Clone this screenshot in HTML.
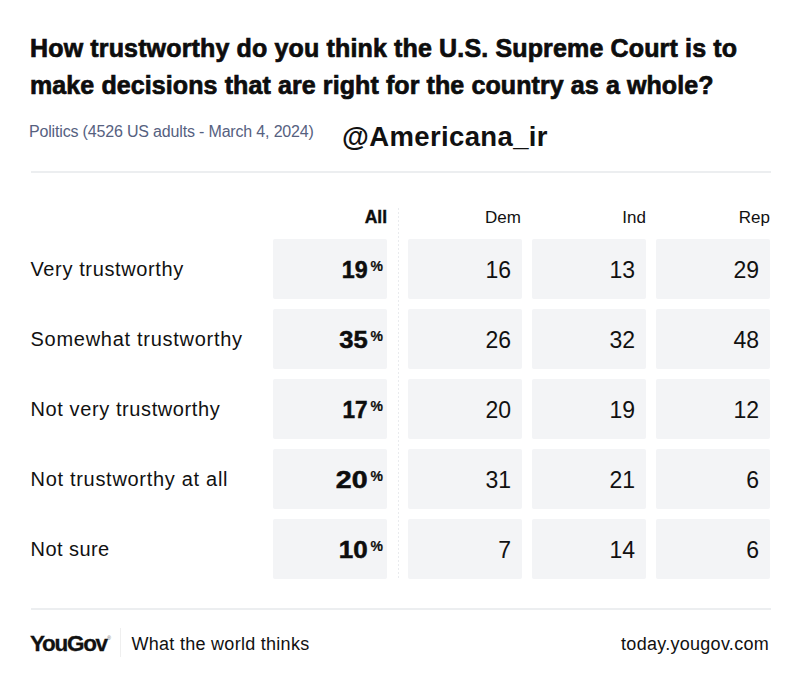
<!DOCTYPE html>
<html>
<head>
<meta charset="utf-8">
<style>
html,body{margin:0;padding:0;background:#fff;}
body{width:800px;height:689px;position:relative;overflow:hidden;font-family:"Liberation Sans",sans-serif;color:#111;}
.a{position:absolute;white-space:nowrap;line-height:1;}
.title{left:30px;font-size:25px;font-weight:bold;color:#0d0d0d;letter-spacing:0.15px;-webkit-text-stroke:0.7px #0d0d0d;}
.sub{left:29px;top:123.5px;font-size:16px;color:#56617f;letter-spacing:-0.17px;}
.handle{left:342px;top:122.5px;font-size:27.5px;font-weight:bold;color:#111;-webkit-text-stroke:0px #111;letter-spacing:0.37px;}
.hr{position:absolute;left:31px;width:739.5px;height:2px;background:#eceef0;}
.hdr{font-size:17px;top:208.5px;color:#111;}
.cell{position:absolute;width:114px;height:59.6px;background:#f3f4f6;border-radius:2px;}
.lab{left:30.5px;font-size:20px;color:#111;}
.num{font-size:23px;color:#111;}
.big{font-size:23px;font-weight:bold;color:#0d0d0d;-webkit-text-stroke:0.5px #0d0d0d;}
.pct{font-size:14px;font-weight:bold;color:#0d0d0d;-webkit-text-stroke:0.2px #0d0d0d;}
.vdot{position:absolute;left:397.5px;top:208px;height:371px;width:1.5px;background:repeating-linear-gradient(to bottom,#e9ebee 0,#e9ebee 2px,transparent 2px,transparent 4px);}
</style>
</head>
<body>
<div class="a title" style="top:36.0px;">How trustworthy do you think the U.S. Supreme Court is to</div>
<div class="a title" style="top:73.0px;letter-spacing:0.1px;">make decisions that are right for the country as a whole?</div>
<div class="a sub">Politics (4526 US adults - March 4, 2024)</div>
<div class="a handle">@Americana_ir</div>
<div class="hr" style="top:171px;"></div>

<div class="a" style="right:413px;top:209px;font-size:17.5px;font-weight:bold;color:#0d0d0d;-webkit-text-stroke:0.4px #0d0d0d;">All</div>
<div class="a hdr" style="right:279px;">Dem</div>
<div class="a hdr" style="right:154px;">Ind</div>
<div class="a hdr" style="right:30px;">Rep</div>

<div class="vdot"></div>

<div class="cell" style="left:273px;top:239px;"></div>
<div class="cell" style="left:407.5px;top:239px;"></div>
<div class="cell" style="left:531.75px;top:239px;"></div>
<div class="cell" style="left:656px;top:239px;"></div>
<div class="cell" style="left:273px;top:309px;"></div>
<div class="cell" style="left:407.5px;top:309px;"></div>
<div class="cell" style="left:531.75px;top:309px;"></div>
<div class="cell" style="left:656px;top:309px;"></div>
<div class="cell" style="left:273px;top:379px;"></div>
<div class="cell" style="left:407.5px;top:379px;"></div>
<div class="cell" style="left:531.75px;top:379px;"></div>
<div class="cell" style="left:656px;top:379px;"></div>
<div class="cell" style="left:273px;top:449px;"></div>
<div class="cell" style="left:407.5px;top:449px;"></div>
<div class="cell" style="left:531.75px;top:449px;"></div>
<div class="cell" style="left:656px;top:449px;"></div>
<div class="cell" style="left:273px;top:519px;"></div>
<div class="cell" style="left:407.5px;top:519px;"></div>
<div class="cell" style="left:531.75px;top:519px;"></div>
<div class="cell" style="left:656px;top:519px;"></div>
<div class="a lab" style="top:259.47px;letter-spacing:0.62px;">Very trustworthy</div>
<div class="a big" style="right:432.5px;top:259px;transform:scaleX(1.01);transform-origin:100% 50%;">19</div><div class="a pct" style="right:417px;top:259px;">%</div>
<div class="a num" style="right:289px;top:259px;">16</div>
<div class="a num" style="right:165px;top:259px;">13</div>
<div class="a num" style="right:41px;top:259px;">29</div>
<div class="a lab" style="top:329.47px;letter-spacing:0.72px;">Somewhat trustworthy</div>
<div class="a big" style="right:432.5px;top:329px;transform:scaleX(1.11);transform-origin:100% 50%;">35</div><div class="a pct" style="right:417px;top:329px;">%</div>
<div class="a num" style="right:289px;top:329px;">26</div>
<div class="a num" style="right:165px;top:329px;">32</div>
<div class="a num" style="right:41px;top:329px;">48</div>
<div class="a lab" style="top:399.47px;letter-spacing:0.6px;">Not very trustworthy</div>
<div class="a big" style="right:432.5px;top:399px;transform:scaleX(0.98);transform-origin:100% 50%;">17</div><div class="a pct" style="right:417px;top:399px;">%</div>
<div class="a num" style="right:289px;top:399px;">20</div>
<div class="a num" style="right:165px;top:399px;">19</div>
<div class="a num" style="right:41px;top:399px;">12</div>
<div class="a lab" style="top:469.47px;letter-spacing:0.7px;">Not trustworthy at all</div>
<div class="a big" style="right:432.5px;top:469px;transform:scaleX(1.24);transform-origin:100% 50%;">20</div><div class="a pct" style="right:417px;top:469px;">%</div>
<div class="a num" style="right:289px;top:469px;">31</div>
<div class="a num" style="right:165px;top:469px;">21</div>
<div class="a num" style="right:41px;top:469px;">6</div>
<div class="a lab" style="top:539.47px;letter-spacing:0.45px;">Not sure</div>
<div class="a big" style="right:432.5px;top:539px;transform:scaleX(1.13);transform-origin:100% 50%;">10</div><div class="a pct" style="right:417px;top:539px;">%</div>
<div class="a num" style="right:289px;top:539px;">7</div>
<div class="a num" style="right:165px;top:539px;">14</div>
<div class="a num" style="right:41px;top:539px;">6</div>

<div class="hr" style="top:608px;"></div>

<div class="a" style="left:30px;top:633.2px;font-size:22.5px;font-weight:bold;letter-spacing:-1.3px;color:#111;-webkit-text-stroke:0.3px #111;">YouGov</div>
<div class="a" style="left:107.2px;top:635.5px;font-size:5px;color:#6a6a6a;">&reg;</div>
<div style="position:absolute;left:120px;top:628px;width:1px;height:29px;background:#efefef;"></div>
<div class="a" style="left:131.5px;top:634.8px;font-size:18px;letter-spacing:0.28px;color:#111;">What the world thinks</div>
<div class="a" style="right:31px;top:634.8px;font-size:18px;letter-spacing:0.28px;color:#111;">today.yougov.com</div>
</body>
</html>
